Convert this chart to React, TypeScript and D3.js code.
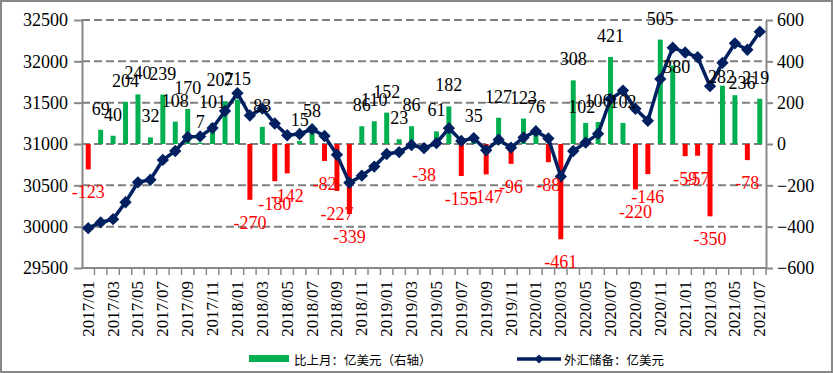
import React, { useEffect, useRef } from 'react';
import * as d3 from 'd3';

const months = [
  '2017/01', '2017/02', '2017/03', '2017/04', '2017/05', '2017/06', '2017/07', '2017/08', '2017/09', '2017/10', '2017/11', '2017/12',
  '2018/01', '2018/02', '2018/03', '2018/04', '2018/05', '2018/06', '2018/07', '2018/08', '2018/09', '2018/10', '2018/11', '2018/12',
  '2019/01', '2019/02', '2019/03', '2019/04', '2019/05', '2019/06', '2019/07', '2019/08', '2019/09', '2019/10', '2019/11', '2019/12',
  '2020/01', '2020/02', '2020/03', '2020/04', '2020/05', '2020/06', '2020/07', '2020/08', '2020/09', '2020/10', '2020/11', '2020/12',
  '2021/01', '2021/02', '2021/03', '2021/04', '2021/05', '2021/06', '2021/07',
];

// 比上月 (right axis)
const monthChange = [
  -123, 69, 40, 204, 240, 32, 239, 108, 170, 7, 101, 207,
  215, -270, 83, -180, -142, 15, 58, -82, -227, -339, 86, 110,
  152, 23, 86, -38, 61, 182, -155, 35, -147, 127, -96, 123,
  76, -88, -461, 308, 102, 106, 421, 102, -220, -146, 505, 380,
  -59, -57, -350, 282, 236, -78, 219,
];

// 外汇储备 (left axis)
const reserves = [
  29982, 30051, 30091, 30295, 30536, 30568, 30807, 30915, 31085, 31092, 31193, 31399,
  31615, 31345, 31428, 31248, 31106, 31121, 31179, 31097, 30870, 30531, 30617, 30727,
  30879, 30902, 30988, 30950, 31010, 31192, 31037, 31072, 30924, 31052, 30956, 31079,
  31155, 31067, 30606, 30915, 31017, 31123, 31544, 31646, 31426, 31280, 31785, 32165,
  32107, 32050, 31700, 31982, 32218, 32140, 32359,
];

const leftTicks = [29500, 30000, 30500, 31000, 31500, 32000, 32500];
const rightTicks = [-600, -400, -200, 0, 200, 400, 600];

const barLegend = '比上月：亿美元（右轴）';
const lineLegend = '外汇储备：亿美元';

// a few labels were shifted by hand in the original chart
const labelNudge = {
  '2017/12': [-5, 0],
  '2020/05': [-4, 5],
  '2020/12': [4, 23],
  '2021/04': [-1, 12],
  '2021/05': [7, 9],
  '2021/07': [-4, 0],
};

const App = () => {
  const svgRef = useRef(null);

  useEffect(() => {
    const svg = d3.select(svgRef.current);
    svg.selectAll('*').remove();

    const width = 833;
    const height = 373;
    const plot = { left: 82, right: 766, top: 20, bottom: 268 };
    const serif = '"Liberation Serif", "Times New Roman", serif';
    const gray = '#888888';

    svg.attr('width', width).attr('height', height);

    // background + outer border
    svg.append('rect')
      .attr('x', 1).attr('y', 1)
      .attr('width', width - 2).attr('height', height - 2)
      .attr('fill', '#fff').attr('stroke', gray).attr('stroke-width', 2);

    // scales
    const x = d3.scaleBand().domain(months).range([plot.left, plot.right]).paddingInner(0.6).paddingOuter(0.3);
    const yL = d3.scaleLinear().domain([29500, 32500]).range([plot.bottom, plot.top]);
    const yR = d3.scaleLinear().domain([-600, 600]).range([plot.bottom, plot.top]);
    const cx = (m) => x(m) + x.bandwidth() / 2;
    const gap = (x.step() - x.bandwidth()) / 2;

    // dashed gridlines
    svg.append('g')
      .selectAll('line')
      .data(leftTicks.slice(1))
      .enter()
      .append('line')
      .attr('x1', plot.left).attr('x2', plot.right)
      .attr('y1', (d) => yL(d)).attr('y2', (d) => yL(d))
      .attr('stroke', '#7f7f7f')
      .attr('stroke-width', 2)
      .attr('stroke-dasharray', '8,4');

    // left axis
    const leftAxis = svg.append('g')
      .attr('transform', `translate(${plot.left},0)`)
      .call(d3.axisLeft(yL).tickValues(leftTicks).tickSize(8).tickSizeOuter(0).tickPadding(6).tickFormat(d3.format('d')));
    leftAxis.select('.domain').attr('stroke', gray).attr('stroke-width', 2);
    leftAxis.selectAll('.tick line').attr('stroke', gray).attr('stroke-width', 2);
    leftAxis.selectAll('text').style('font-family', serif).style('font-size', '18px').attr('fill', '#000');

    // right axis
    const rightAxis = svg.append('g')
      .attr('transform', `translate(${plot.right},0)`)
      .call(d3.axisRight(yR).tickValues(rightTicks).tickSize(7).tickSizeOuter(0).tickPadding(4).tickFormat(d3.format('d')));
    rightAxis.select('.domain').attr('stroke', gray).attr('stroke-width', 2);
    rightAxis.selectAll('.tick line').attr('stroke', gray).attr('stroke-width', 2);
    rightAxis.selectAll('text').style('font-family', serif).style('font-size', '18px').attr('fill', '#000');

    // bottom axis line + ticks at category boundaries
    svg.append('line')
      .attr('x1', plot.left).attr('x2', plot.right)
      .attr('y1', plot.bottom).attr('y2', plot.bottom)
      .attr('stroke', gray).attr('stroke-width', 2);
    svg.append('g')
      .selectAll('line')
      .data(months)
      .enter()
      .append('line')
      .attr('x1', (d) => x(d) + x.bandwidth() + gap)
      .attr('x2', (d) => x(d) + x.bandwidth() + gap)
      .attr('y1', plot.bottom).attr('y2', plot.bottom + 7)
      .attr('stroke', gray).attr('stroke-width', 1.5);

    // x labels (every other month)
    svg.append('g')
      .selectAll('text')
      .data(months.filter((d, i) => i % 2 === 0))
      .enter()
      .append('text')
      .attr('transform', (d) => `translate(${cx(d)},281) rotate(-90)`)
      .attr('text-anchor', 'end')
      .attr('dominant-baseline', 'central')
      .style('font-family', serif)
      .style('font-size', '17px')
      .text((d) => d);

    // bars
    svg.append('g')
      .selectAll('rect')
      .data(monthChange)
      .enter()
      .append('rect')
      .attr('x', (d, i) => x(months[i]))
      .attr('y', (d) => yR(Math.max(0, d)))
      .attr('width', x.bandwidth())
      .attr('height', (d) => Math.abs(yR(d) - yR(0)))
      .attr('fill', (d) => (d >= 0 ? '#00B050' : '#FF0000'));

    // reserves line
    const line = d3.line()
      .x((d, i) => cx(months[i]))
      .y((d) => yL(d));
    svg.append('path')
      .datum(reserves)
      .attr('d', line)
      .attr('fill', 'none')
      .attr('stroke', '#002060')
      .attr('stroke-width', 3.5);

    const diamond = d3.symbol().type(d3.symbolSquare).size(76);
    svg.append('g')
      .selectAll('path')
      .data(reserves)
      .enter()
      .append('path')
      .attr('d', diamond)
      .attr('transform', (d, i) => `translate(${cx(months[i])},${yL(d)}) rotate(45)`)
      .attr('fill', '#002060');

    // bar value labels
    const nudge = (i) => labelNudge[months[i]] || [0, 0];
    svg.append('g')
      .selectAll('text')
      .data(monthChange)
      .enter()
      .append('text')
      .attr('x', (d, i) => cx(months[i]) + nudge(i)[0])
      .attr('y', (d, i) => (d >= 0 ? yR(d) - 15 : yR(d) + 29) + nudge(i)[1])
      .attr('text-anchor', 'middle')
      .attr('fill', (d) => (d >= 0 ? '#000' : '#FF0000'))
      .style('font-family', serif)
      .style('font-size', '18px')
      .text((d) => d);

    // legend
    const cjk = '"Noto Sans CJK SC", "Noto Sans", sans-serif';
    const legend = svg.append('g');
    legend.append('rect')
      .attr('x', 249).attr('y', 355)
      .attr('width', 40).attr('height', 7)
      .attr('fill', '#00B050');
    legend.append('text')
      .attr('x', 294).attr('y', 359)
      .attr('dominant-baseline', 'central')
      .style('font-family', cjk)
      .style('font-size', '12.5px')
      .text(barLegend);
    legend.append('line')
      .attr('x1', 517).attr('x2', 561)
      .attr('y1', 359).attr('y2', 359)
      .attr('stroke', '#002060').attr('stroke-width', 3.5);
    legend.append('path')
      .attr('d', d3.symbol().type(d3.symbolSquare).size(40))
      .attr('transform', 'translate(539,359) rotate(45)')
      .attr('fill', '#002060');
    legend.append('text')
      .attr('x', 564).attr('y', 359)
      .attr('dominant-baseline', 'central')
      .style('font-family', cjk)
      .style('font-size', '12.5px')
      .text(lineLegend);
  }, []);

  return <svg ref={svgRef} style={{ position: 'absolute', left: 0, top: 0 }}></svg>;
};

export default App;
